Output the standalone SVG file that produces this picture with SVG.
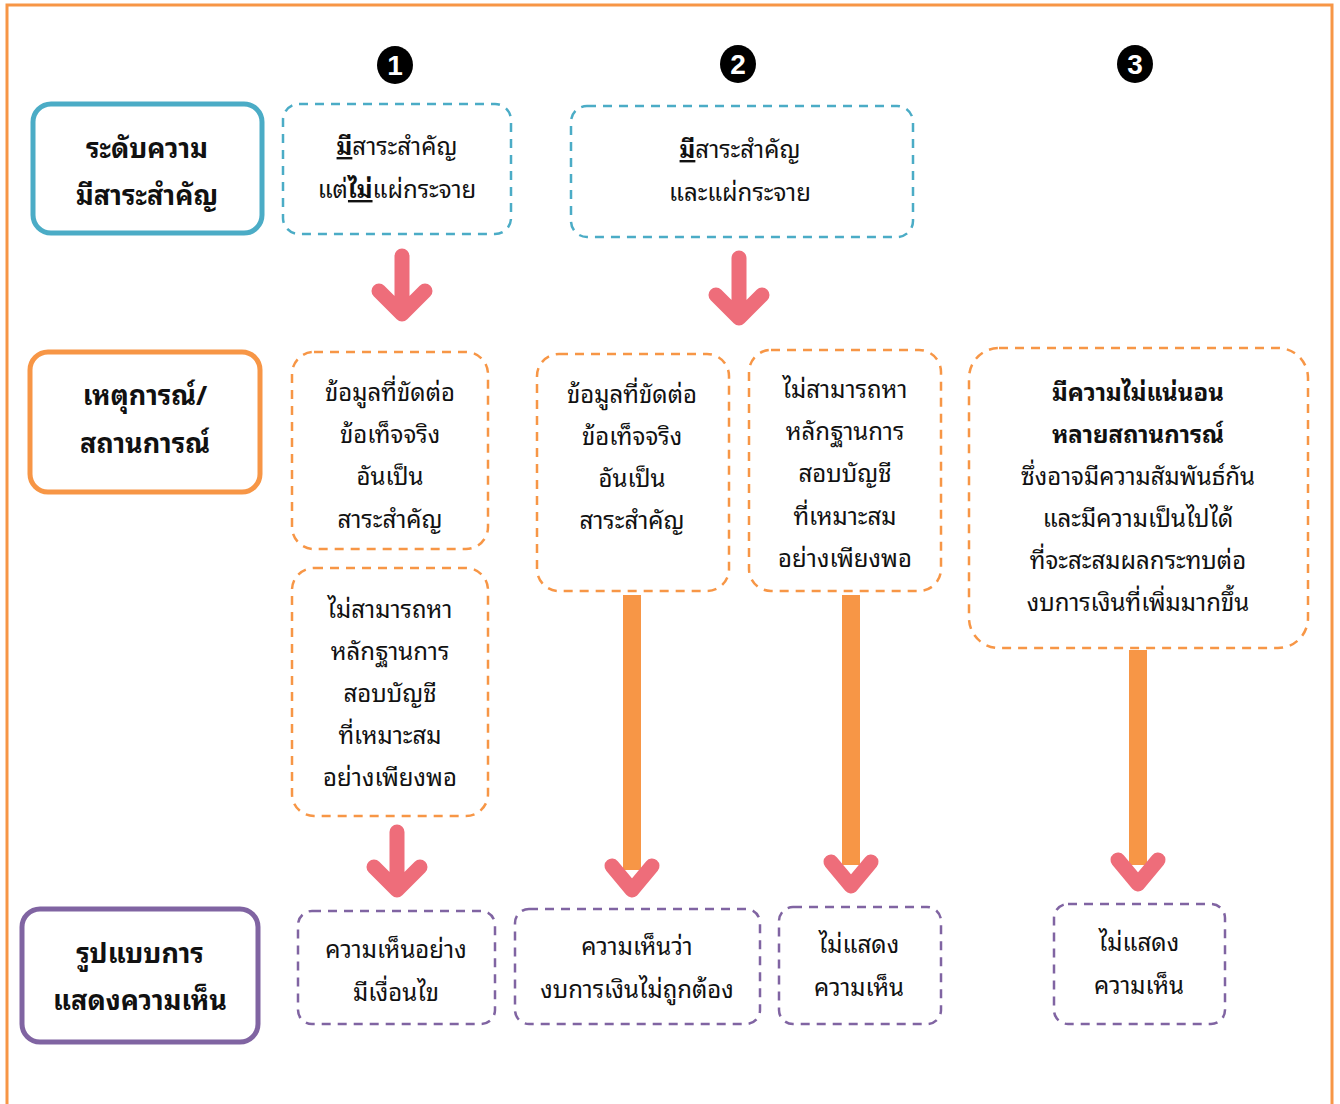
<svg xmlns="http://www.w3.org/2000/svg" width="1340" height="1104" viewBox="0 0 1340 1104">
<style>
text{font-family:"Noto Sans Thai Looped","Noto Sans Thai","Noto Sans","DejaVu Sans",sans-serif;text-anchor:middle;fill:#111}
.t{font-size:24px}
.b{font-size:27px;font-weight:bold}
.cat{fill:#fff;stroke-width:5}
.dash{fill:#fff;stroke-width:2.5;stroke-dasharray:9 7}
.blue{stroke:#4BACC6}.orange{stroke:#F79646}.purple{stroke:#8064A2}
.pink{fill:none;stroke:#EE6D7A;stroke-width:15;stroke-linecap:round;stroke-linejoin:round}
.shaft{fill:#F79646}
.num{fill:#000}
.numt{fill:#fff;font-size:28px;font-weight:bold;font-family:"Liberation Sans",sans-serif}
</style>
<rect x="0" y="0" width="1340" height="1104" fill="#fff"/>
<rect x="7" y="5" width="1325" height="1120" fill="none" stroke="#F79646" stroke-width="3"/>

<g id="n1"><ellipse class="num" cx="395" cy="65" rx="18" ry="19"/><text class="numt" x="395" y="75">1</text></g>
<g id="n2"><ellipse class="num" cx="738" cy="64" rx="18" ry="19"/><text class="numt" x="738" y="74">2</text></g>
<g id="n3"><ellipse class="num" cx="1135" cy="64" rx="18" ry="19"/><text class="numt" x="1135" y="74">3</text></g>

<g id="cat1"><rect class="cat blue" x="33" y="104" width="229" height="129" rx="18"/>
<text class="b" x="147" y="158">ระดับความ</text><text class="b" x="147" y="205">มีสาระสำคัญ</text></g>
<g id="cat2"><rect class="cat orange" x="30" y="352" width="230" height="140" rx="18"/>
<text class="b" x="145" y="405">เหตุการณ์/</text><text class="b" x="145" y="453">สถานการณ์</text></g>
<g id="cat3"><rect class="cat purple" x="22" y="909" width="236" height="133" rx="18"/>
<text class="b" x="140" y="963">รูปแบบการ</text><text class="b" x="140" y="1010">แสดงความเห็น</text></g>

<g id="a1"><rect class="dash blue" x="283" y="104" width="228" height="130" rx="16"/>
<text class="t" x="397" y="155"><tspan font-weight="bold" text-decoration="underline">มี</tspan>สาระสำคัญ</text>
<text class="t" x="397" y="198">แต่<tspan font-weight="bold" text-decoration="underline">ไม่</tspan>แผ่กระจาย</text></g>
<g id="a2"><rect class="dash blue" x="571" y="106" width="342" height="131" rx="16"/>
<text class="t" x="740" y="158"><tspan font-weight="bold" text-decoration="underline">มี</tspan>สาระสำคัญ</text>
<text class="t" x="740" y="201">และแผ่กระจาย</text></g>

<g id="c1"><rect class="dash orange" x="292" y="352" width="196" height="197" rx="22"/>
<text class="t" x="390" y="401">ข้อมูลที่ขัดต่อ</text><text class="t" x="390" y="443">ข้อเท็จจริง</text><text class="t" x="390" y="485">อันเป็น</text><text class="t" x="390" y="528">สาระสำคัญ</text></g>
<g id="c2"><rect class="dash orange" x="292" y="568" width="196" height="248" rx="22"/>
<text class="t" x="390" y="618">ไม่สามารถหา</text><text class="t" x="390" y="660">หลักฐานการ</text><text class="t" x="390" y="702">สอบบัญชี</text><text class="t" x="390" y="744">ที่เหมาะสม</text><text class="t" x="390" y="786">อย่างเพียงพอ</text></g>
<g id="c3"><rect class="dash orange" x="537" y="354" width="192" height="237" rx="22"/>
<text class="t" x="632" y="403">ข้อมูลที่ขัดต่อ</text><text class="t" x="632" y="445">ข้อเท็จจริง</text><text class="t" x="632" y="487">อันเป็น</text><text class="t" x="632" y="529">สาระสำคัญ</text></g>
<g id="c4"><rect class="dash orange" x="749" y="350" width="192" height="241" rx="22"/>
<text class="t" x="845" y="398">ไม่สามารถหา</text><text class="t" x="845" y="440">หลักฐานการ</text><text class="t" x="845" y="482">สอบบัญชี</text><text class="t" x="845" y="525">ที่เหมาะสม</text><text class="t" x="845" y="567">อย่างเพียงพอ</text></g>
<g id="c5"><rect class="dash orange" x="969" y="348" width="339" height="300" rx="30"/>
<text class="t" x="1138" y="401" font-weight="bold">มีความไม่แน่นอน</text><text class="t" x="1138" y="443" font-weight="bold">หลายสถานการณ์</text><text class="t" x="1138" y="485">ซึ่งอาจมีความสัมพันธ์กัน</text><text class="t" x="1138" y="527">และมีความเป็นไปได้</text><text class="t" x="1138" y="569">ที่จะสะสมผลกระทบต่อ</text><text class="t" x="1138" y="611">งบการเงินที่เพิ่มมากขึ้น</text></g>

<g id="d1"><rect class="dash purple" x="298" y="911" width="197" height="113" rx="14"/>
<text class="t" x="396" y="958">ความเห็นอย่าง</text><text class="t" x="396" y="1001">มีเงื่อนไข</text></g>
<g id="d2"><rect class="dash purple" x="515" y="909" width="245" height="115" rx="14"/>
<text class="t" x="637" y="955">ความเห็นว่า</text><text class="t" x="637" y="998">งบการเงินไม่ถูกต้อง</text></g>
<g id="d3"><rect class="dash purple" x="779" y="907" width="162" height="117" rx="14"/>
<text class="t" x="859" y="953">ไม่แสดง</text><text class="t" x="859" y="996">ความเห็น</text></g>
<g id="d4"><rect class="dash purple" x="1054" y="904" width="171" height="120" rx="14"/>
<text class="t" x="1139" y="951">ไม่แสดง</text><text class="t" x="1139" y="994">ความเห็น</text></g>

<g id="connectors">
<path class="pink" d="M402 256V314M379 291L402 314L425 291"/>
<path class="pink" d="M739 258V318M716 295L739 318L762 295"/>
<path class="pink" d="M397 832V890M374 867L397 890L420 867"/>
<rect class="shaft" x="623" y="595" width="18" height="275"/>
<path class="pink" d="M612 866L632 890L652 866"/>
<rect class="shaft" x="842" y="595" width="18" height="270"/>
<path class="pink" d="M831 862L851 886L871 862"/>
<rect class="shaft" x="1129" y="650" width="18" height="215"/>
<path class="pink" d="M1118 860L1138 884L1158 860"/>
</g>
</svg>
